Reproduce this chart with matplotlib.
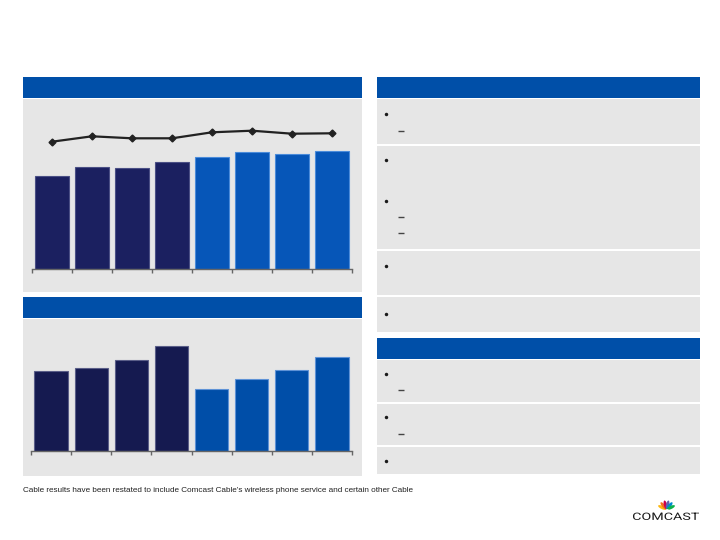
import matplotlib
matplotlib.use("Agg")
import matplotlib.pyplot as plt
import numpy as np
from matplotlib.patches import Rectangle, Polygon, PathPatch
from matplotlib.textpath import TextPath
from matplotlib.font_manager import FontProperties
from matplotlib.transforms import Affine2D

# ---------------- data (arbitrary units) ----------------
periods = ["P1", "P2", "P3", "P4", "P5", "P6", "P7", "P8"]
top_bars = [93, 102, 101, 107, 112, 117, 115, 118]
top_line = [127.3, 132.7, 130.7, 130.7, 136.7, 138.3, 135.3, 135.7]
bottom_bars = [80, 82.7, 90.7, 104.7, 62, 71.7, 81, 94.3]
footnote = "Cable results have been restated to include Comcast Cable\u2019s wireless phone service and certain other Cable"
logo_text = "COMCAST"

# ---------------- style ----------------
HEADER = "#004FA8"
PANEL = "#E6E6E6"
DARK = "#1B2060"
DARK2 = "#151A50"
BLUE = "#0656B8"
BLUE2 = "#004EA8"

W, H = 720, 540
fig = plt.figure(figsize=(7.2, 5.4), dpi=100)
fig.patch.set_facecolor("white")

bg = fig.add_axes([0, 0, 1, 1], zorder=0)
bg.set_xlim(0, W)
bg.set_ylim(H, 0)
bg.axis("off")

def rect(x0, y0, x1, y1, color):
    bg.add_patch(Rectangle((x0, y0), x1 - x0, y1 - y0, facecolor=color, edgecolor="none"))

# left panels
rect(23, 77, 362, 97.5, HEADER)
rect(23, 98.5, 362, 292, PANEL)
rect(23, 297, 362, 318, HEADER)
rect(23, 319, 362, 475.5, PANEL)
# right panels
rect(377, 77, 700, 97.5, HEADER)
for y0, y1 in [(99, 144), (146, 249), (250.5, 295), (297, 332)]:
    rect(377, y0, 700, y1, PANEL)
rect(377, 338, 700, 359, HEADER)
for y0, y1 in [(360, 402), (404, 445), (447, 474)]:
    rect(377, y0, 700, y1, PANEL)

# bullets and dashes
for yb in [114.3, 160.3, 201, 265.7, 314.3, 373.7, 417.3, 460.7]:
    bg.plot([385.7], [yb], marker="o", ms=2.5, color="#1a1a1a", mec="none")
for yd in [131, 217.3, 232.7, 390.3, 434]:
    bg.plot([397.5, 403.5], [yd, yd], color="#444444", lw=1.0, solid_capstyle="butt")

# footnote
bg.text(23, 490.5, footnote, fontsize=5.85, family="Liberation Sans", color="#222222",
        ha="left", va="center")

# COMCAST logo text
fp = FontProperties(family="Roboto", weight="normal")
tp = TextPath((0, 0), logo_text, size=10, prop=fp)
ext = tp.get_extents()
sx = 66.0 / ext.width
sy = 7.4 / ext.height
tr = Affine2D().translate(-ext.x0, -ext.y0).scale(sx, -sy).translate(633, 520) + bg.transData
bg.add_patch(PathPatch(tp, transform=tr, facecolor="#1a1a1a", edgecolor="none"))

# peacock
feather_colors = ["#FCB711", "#F37021", "#CC004C", "#6460AA", "#0089D0", "#0DB14B"]
base = np.array([666.5, 509.5])
angles = np.deg2rad(np.linspace(155, 25, 6))
t = np.linspace(0, 2 * np.pi, 40)
for ang, col in zip(angles, feather_colors):
    u = np.array([np.cos(ang), -np.sin(ang)])
    v = np.array([-u[1], u[0]])
    c = base + u * 4.8
    pts = c[None, :] + np.outer(np.cos(t) * 4.4, u) + np.outer(np.sin(t) * 1.6, v)
    bg.add_patch(Polygon(pts, closed=True, facecolor=col, edgecolor="none"))
bg.plot([base[0]], [base[1] + 0.3], marker="o", ms=2.0, color="white", mec="none")

# ---------------- charts ----------------
def fax(x0, x1, ytop, ybot):
    return fig.add_axes([x0 / W, 1 - ybot / H, (x1 - x0) / W, (ybot - ytop) / H], zorder=2)

def style(ax):
    ax.patch.set_alpha(0)
    for s in ["top", "right", "left"]:
        ax.spines[s].set_visible(False)
    ax.spines["bottom"].set_color("#666666")
    ax.spines["bottom"].set_linewidth(1.0)
    ax.set_xlim(-0.5, len(periods) - 0.5)
    ax.set_xticks(np.arange(-0.5, len(periods) + 0.5, 1.0))
    ax.set_xticklabels([])
    ax.tick_params(axis="x", direction="out", length=3, width=1, color="#666666")
    ax.set_yticks([])

x = np.arange(len(periods))

ax1 = fax(32, 352, 98.5, 269)
style(ax1)
ax1.set_ylim(0, 269 - 98.5)
cols1 = [DARK] * 4 + [BLUE] * 4
edges1 = ["#4A4F85"] * 4 + ["#4A8BDA"] * 4
ax1.bar(x, top_bars, width=0.85, color=cols1, edgecolor=edges1, linewidth=0.8)
ax1.plot(x, top_line, color="#222222", lw=1.6, marker="D", ms=3.5, zorder=3)

ax2 = fax(31, 352, 319, 451)
style(ax2)
ax2.set_ylim(0, 451 - 319)
cols2 = [DARK2] * 4 + [BLUE2] * 4
edges2 = ["#5A5E88"] * 4 + ["#5E92D6"] * 4
ax2.bar(x, bottom_bars, width=0.83, color=cols2, edgecolor=edges2, linewidth=0.8)

fig.savefig("out.png", dpi=100, facecolor="white")
